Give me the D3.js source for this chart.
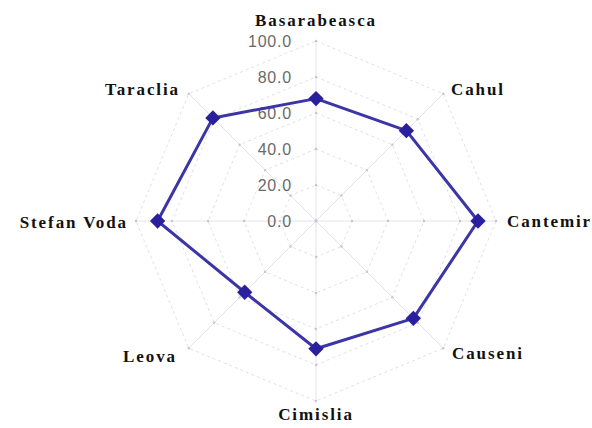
<!DOCTYPE html>
<html>
<head>
<meta charset="utf-8">
<script src="https://cdn.jsdelivr.net/npm/d3@7"></script>
<style>
  body { margin: 0; background: #fff; }
  .cat { font-family: "Liberation Serif", "Times New Roman", serif; font-weight: bold; font-size: 17px; letter-spacing: 1.9px; fill: #111; }
  .tick { font-family: "Liberation Sans", Arial, sans-serif; font-size: 16px; letter-spacing: 0.8px; fill: #6a6a6a; }
</style>
</head>
<body>
<div id="chart"></div>
<script>
// data
var districts = ["Basarabeasca", "Cahul", "Cantemir", "Causeni", "Cimislia", "Leova", "Stefan Voda", "Taraclia"];
var values = [68, 71, 90, 76.5, 71, 56, 88, 81];
var tickValues = [0, 20, 40, 60, 80, 100];

var svgWidth = 592, svgHeight = 428;
var cx = 316, cy = 221, radius = 180;

var svg = d3.select("#chart").append("svg")
  .attr("width", svgWidth)
  .attr("height", svgHeight);

var g = svg.append("g").attr("transform", `translate(${cx}, ${cy})`);

var rScale = d3.scaleLinear().domain([0, 100]).range([0, radius]);
var angle = d3.scalePoint().domain(districts.concat(["_end"])).range([0, 2 * Math.PI]);

function pt(name, v) {
  var a = angle(name);
  return [rScale(v) * Math.sin(a), -rScale(v) * Math.cos(a)];
}

// grid octagons
tickValues.slice(1).forEach(function(t) {
  g.append("path")
    .attr("d", d3.line()(districts.map(d => pt(d, t))) + "Z")
    .attr("fill", "none")
    .attr("stroke", "#e0e2e8")
    .attr("stroke-width", 1)
    .attr("stroke-dasharray", "3,3");
});

// spokes
districts.forEach(function(d) {
  var p = pt(d, 100);
  g.append("line")
    .attr("x1", 0).attr("y1", 0)
    .attr("x2", p[0]).attr("y2", p[1])
    .attr("stroke", "#e2e4ec")
    .attr("stroke-width", 1);
  // small tick marks
  tickValues.forEach(function(t) {
    var q = pt(d, t);
    g.append("circle").attr("cx", q[0]).attr("cy", q[1]).attr("r", 1.2).attr("fill", "#c4c7d3");
  });
});

// tick labels on the vertical axis
g.selectAll("text.tick").data(tickValues).enter().append("text")
  .attr("class", "tick")
  .attr("x", -24)
  .attr("y", d => -rScale(d))
  .attr("dy", "0.36em")
  .attr("text-anchor", "end")
  .text(d => d.toFixed(1));

// data polygon
var pts = districts.map((d, i) => pt(d, values[i]));
g.append("path")
  .attr("d", d3.line()(pts) + "Z")
  .attr("fill", "none")
  .attr("stroke", "#3b35a6")
  .attr("stroke-width", 3)
  .attr("stroke-linejoin", "round");

g.selectAll("path.marker").data(pts).enter().append("path")
  .attr("class", "marker")
  .attr("d", d3.symbol().type(d3.symbolDiamond2).size(150))
  .attr("transform", d => `translate(${d[0]}, ${d[1]})`)
  .attr("fill", "#2a1f9c");

// category labels
var labelPos = {
  "Basarabeasca": [0, -195, "middle"],
  "Cahul": [162, -126, "middle"],
  "Cantemir": [191, 6, "start"],
  "Causeni": [136, 138, "start"],
  "Cimislia": [0, 199, "middle"],
  "Leova": [-139, 141, "end"],
  "Stefan Voda": [-188, 7, "end"],
  "Taraclia": [-211, -126, "start"]
};
districts.forEach(function(d) {
  var p = labelPos[d];
  g.append("text")
    .attr("class", "cat")
    .attr("x", p[0]).attr("y", p[1])
    .attr("text-anchor", p[2])
    .text(d);
});
</script>
</body>
</html>
